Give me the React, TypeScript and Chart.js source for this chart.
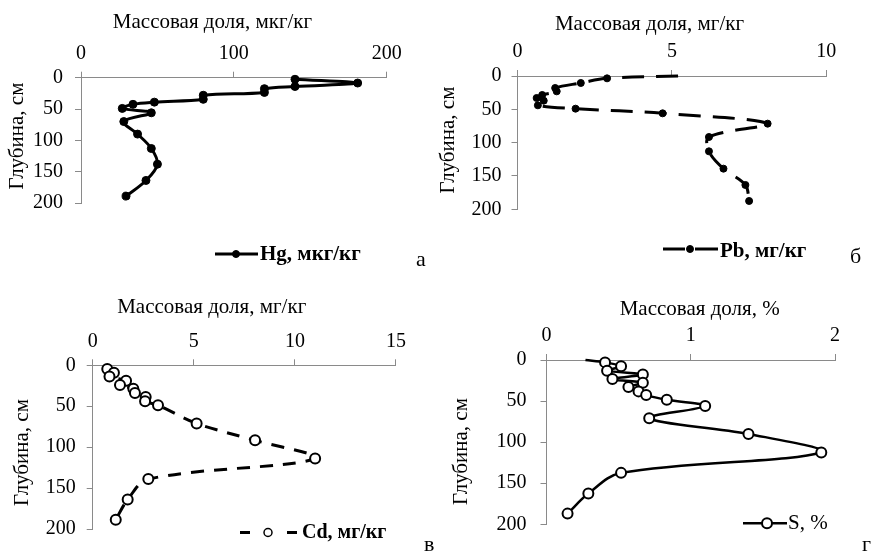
import React, { useEffect, useRef } from 'react';
import { Chart, registerables } from 'chart.js';

Chart.register(...registerables);

const W = 876;
const H = 552;
const SERIF = '"Liberation Serif", "Times New Roman", serif';
const AXIS = '#8a8a8a';

// Hg, мкг/кг
const hgDepth = [2.5, 8.5, 14, 17.5, 23.5, 28, 34.5, 39, 42.5, 49, 56, 70, 90, 113, 138, 164, 189];
const hgValue = [140, 181, 140, 120, 120, 80, 80, 48, 34, 27, 46, 28, 37, 46, 50, 42.5, 29.5];

// Pb, мг/кг (first entry is the unmarked start of the curve at the surface)
const pbDepth = [0, 3.5, 10.5, 18, 23, 28.5, 33, 37, 44, 49, 56, 71.5, 91.5, 113, 139, 163.5, 187.5];
const pbValue = [5.2, 2.9, 2.05, 1.22, 1.27, 0.8, 0.62, 0.85, 0.66, 1.88, 4.7, 8.1, 6.2, 6.2, 6.67, 7.38, 7.5];

// Cd, мг/кг
const cdDepth = [4.5, 9, 13.7, 19, 24, 28.6, 33.8, 38.6, 43.8, 48.7, 71, 91.7, 114, 139, 164, 188.7];
const cdValue = [0.72, 1.05, 0.83, 1.65, 1.35, 2.01, 2.09, 2.62, 2.59, 3.23, 5.14, 8.03, 11.0, 2.75, 1.73, 1.14];

// S, % (first entry is the unmarked start of the curve at the surface)
const sDepth = [0, 2.9, 7.7, 13, 17.5, 23.2, 27.6, 32.9, 38.2, 42.7, 48.4, 56, 71, 90, 112.6, 137.4, 162.6, 187];
const sValue = [0.27, 0.406, 0.517, 0.42, 0.668, 0.457, 0.668, 0.568, 0.638, 0.691, 0.834, 1.1, 0.712, 1.4, 1.905, 0.517, 0.29, 0.146];

const depthTicks = [0, 50, 100, 150, 200];

type Marker = { r: number; fill: string; stroke: string; lw: number };

type PanelSpec = {
  box: { L: number; T: number; R: number; B: number };
  xMax: number;
  xStep: number;
  xPad: number;
  yPad: number;
  depth: number[];
  value: number[];
  hiddenFirst: boolean;
  line: { width: number; dash: number[] };
  marker: Marker;
  title: { text: string; x: number; y: number };
  yTitle: { x: number; y: number };
  legend: {
    text: string;
    bold: boolean;
    size: number;
    x: number;
    y: number;
    lineY: number;
    segments: number[][];
    markerX: number;
    marker: Marker;
  };
  letter: { text: string; x: number; y: number };
};

const panels: PanelSpec[] = [
  {
    box: { L: 81, T: 77.7, R: 386.7, B: 203 },
    xMax: 200,
    xStep: 100,
    xPad: 6,
    yPad: 12,
    depth: hgDepth,
    value: hgValue,
    hiddenFirst: false,
    line: { width: 3, dash: [] },
    marker: { r: 4, fill: '#000', stroke: '#000', lw: 1 },
    title: { text: 'Массовая доля, мкг/кг', x: 212.5, y: 28.3 },
    yTitle: { x: 17, y: 136 },
    legend: {
      text: 'Hg, мкг/кг', bold: true, size: 21, x: 260, y: 260, lineY: 254,
      segments: [[215, 258]], markerX: 236,
      marker: { r: 3.5, fill: '#000', stroke: '#000', lw: 1 },
    },
    letter: { text: 'а', x: 416, y: 266 },
  },
  {
    box: { L: 517.5, T: 76, R: 826.3, B: 209.3 },
    xMax: 10,
    xStep: 5,
    xPad: 6,
    yPad: 10,
    depth: pbDepth,
    value: pbValue,
    hiddenFirst: true,
    line: { width: 3, dash: [22, 12] },
    marker: { r: 3.5, fill: '#000', stroke: '#000', lw: 1 },
    title: { text: 'Массовая доля, мг/кг', x: 649.5, y: 30 },
    yTitle: { x: 448, y: 140 },
    legend: {
      text: 'Pb, мг/кг', bold: true, size: 21, x: 720, y: 256.7, lineY: 249,
      segments: [[663, 685], [695, 718]], markerX: 690,
      marker: { r: 3.5, fill: '#000', stroke: '#000', lw: 1 },
    },
    letter: { text: 'б', x: 850, y: 263 },
  },
  {
    box: { L: 92.7, T: 365.3, R: 396, B: 531 },
    xMax: 15,
    xStep: 5,
    xPad: 6,
    yPad: 11,
    depth: cdDepth,
    value: cdValue,
    hiddenFirst: false,
    line: { width: 3, dash: [13, 10] },
    marker: { r: 5, fill: '#fff', stroke: '#000', lw: 2 },
    title: { text: 'Массовая доля, мг/кг', x: 211.7, y: 312.7 },
    yTitle: { x: 22, y: 452.5 },
    legend: {
      text: 'Cd, мг/кг', bold: true, size: 20, x: 302, y: 537.5, lineY: 532.5,
      segments: [[240, 250], [287, 297]], markerX: 268,
      marker: { r: 4, fill: '#fff', stroke: '#000', lw: 1.5 },
    },
    letter: { text: 'в', x: 424, y: 551 },
  },
  {
    box: { L: 546.5, T: 360, R: 835, B: 524.3 },
    xMax: 2,
    xStep: 1,
    xPad: 6,
    yPad: 14,
    depth: sDepth,
    value: sValue,
    hiddenFirst: true,
    line: { width: 2.5, dash: [] },
    marker: { r: 5, fill: '#fff', stroke: '#000', lw: 2 },
    title: { text: 'Массовая доля, %', x: 699.7, y: 315.3 },
    yTitle: { x: 461, y: 451.5 },
    legend: {
      text: 'S, %', bold: false, size: 21, x: 788, y: 529.3, lineY: 523.3,
      segments: [[743, 787]], markerX: 767,
      marker: { r: 5, fill: '#fff', stroke: '#000', lw: 2 },
    },
    letter: { text: 'г', x: 862, y: 551 },
  },
];

function drawMarker(ctx: CanvasRenderingContext2D, x: number, y: number, m: Marker) {
  ctx.beginPath();
  ctx.arc(x, y, m.r, 0, Math.PI * 2);
  ctx.fillStyle = m.fill;
  ctx.fill();
  ctx.lineWidth = m.lw;
  ctx.strokeStyle = m.stroke;
  ctx.setLineDash([]);
  ctx.stroke();
}

// Axis titles, legend sample and panel letter for one panel.
function makeDecor(spec: PanelSpec) {
  return {
    id: 'panelDecor',
    afterDraw(chart: Chart) {
      const ctx = chart.ctx;
      ctx.save();
      ctx.fillStyle = '#000';

      ctx.font = `21px ${SERIF}`;
      ctx.textAlign = 'center';
      ctx.textBaseline = 'alphabetic';
      ctx.fillText(spec.title.text, spec.title.x, spec.title.y);

      ctx.save();
      ctx.translate(spec.yTitle.x, spec.yTitle.y);
      ctx.rotate(-Math.PI / 2);
      ctx.textBaseline = 'middle';
      ctx.fillText('Глубина, см', 0, 0);
      ctx.restore();

      const lg = spec.legend;
      ctx.strokeStyle = '#000';
      ctx.lineWidth = spec.line.width;
      ctx.setLineDash([]);
      for (const [x1, x2] of lg.segments) {
        ctx.beginPath();
        ctx.moveTo(x1, lg.lineY);
        ctx.lineTo(x2, lg.lineY);
        ctx.stroke();
      }
      drawMarker(ctx, lg.markerX, lg.lineY, lg.marker);

      ctx.fillStyle = '#000';
      ctx.font = `${lg.bold ? 'bold ' : ''}${lg.size}px ${SERIF}`;
      ctx.textAlign = 'left';
      ctx.textBaseline = 'alphabetic';
      ctx.fillText(lg.text, lg.x, lg.y);

      ctx.font = `22px ${SERIF}`;
      ctx.fillText(spec.letter.text, spec.letter.x, spec.letter.y);
      ctx.restore();
    },
  };
}

function Panel({ spec }: { spec: PanelSpec }) {
  const ref = useRef<HTMLCanvasElement>(null);

  useEffect(() => {
    const { L, T, R, B } = spec.box;
    const points = spec.depth.map((d, i) => ({ x: spec.value[i], y: d }));
    const radius = points.map((_, i) => (spec.hiddenFirst && i === 0 ? 0 : spec.marker.r));
    const tickFont = { family: SERIF, size: 20 };

    const chart = new Chart(ref.current as HTMLCanvasElement, {
      type: 'scatter',
      data: {
        datasets: [
          {
            data: points,
            showLine: true,
            tension: 0.35,
            borderColor: '#000',
            borderWidth: spec.line.width,
            borderDash: spec.line.dash,
            pointRadius: radius,
            pointBackgroundColor: spec.marker.fill,
            pointBorderColor: spec.marker.stroke,
            pointBorderWidth: spec.marker.lw,
            clip: false,
          },
        ],
      },
      options: {
        responsive: false,
        animation: false,
        devicePixelRatio: 1,
        events: [],
        layout: { padding: { left: 0, top: 0, right: W - R, bottom: H - B } },
        plugins: { legend: { display: false }, tooltip: { enabled: false } },
        scales: {
          x: {
            type: 'linear',
            position: 'top',
            min: 0,
            max: spec.xMax,
            ticks: { stepSize: spec.xStep, font: tickFont, color: '#000', padding: spec.xPad },
            grid: { drawOnChartArea: false, drawTicks: true, tickLength: 6, color: AXIS },
            border: { display: true, color: AXIS, width: 1 },
            afterFit: (s: any) => {
              s.height = T;
            },
          },
          y: {
            type: 'linear',
            position: 'left',
            reverse: true,
            min: 0,
            max: 200,
            afterBuildTicks: (s: any) => {
              s.ticks = depthTicks.map((v) => ({ value: v }));
            },
            ticks: { font: tickFont, color: '#000', padding: spec.yPad },
            grid: { drawOnChartArea: false, drawTicks: true, tickLength: 6, color: AXIS },
            border: { display: true, color: AXIS, width: 1 },
            afterFit: (s: any) => {
              s.width = L;
            },
          },
        },
      },
      plugins: [makeDecor(spec)],
    } as any);

    return () => chart.destroy();
  }, [spec]);

  return (
    <canvas
      ref={ref}
      width={W}
      height={H}
      style={{ position: 'absolute', left: 0, top: 0, width: W, height: H }}
    />
  );
}

export default function App() {
  return (
    <div
      style={{
        position: 'absolute',
        left: 0,
        top: 0,
        width: W,
        height: H,
        background: '#fff',
        overflow: 'hidden',
      }}
    >
      {panels.map((p, i) => (
        <Panel key={i} spec={p} />
      ))}
    </div>
  );
}
